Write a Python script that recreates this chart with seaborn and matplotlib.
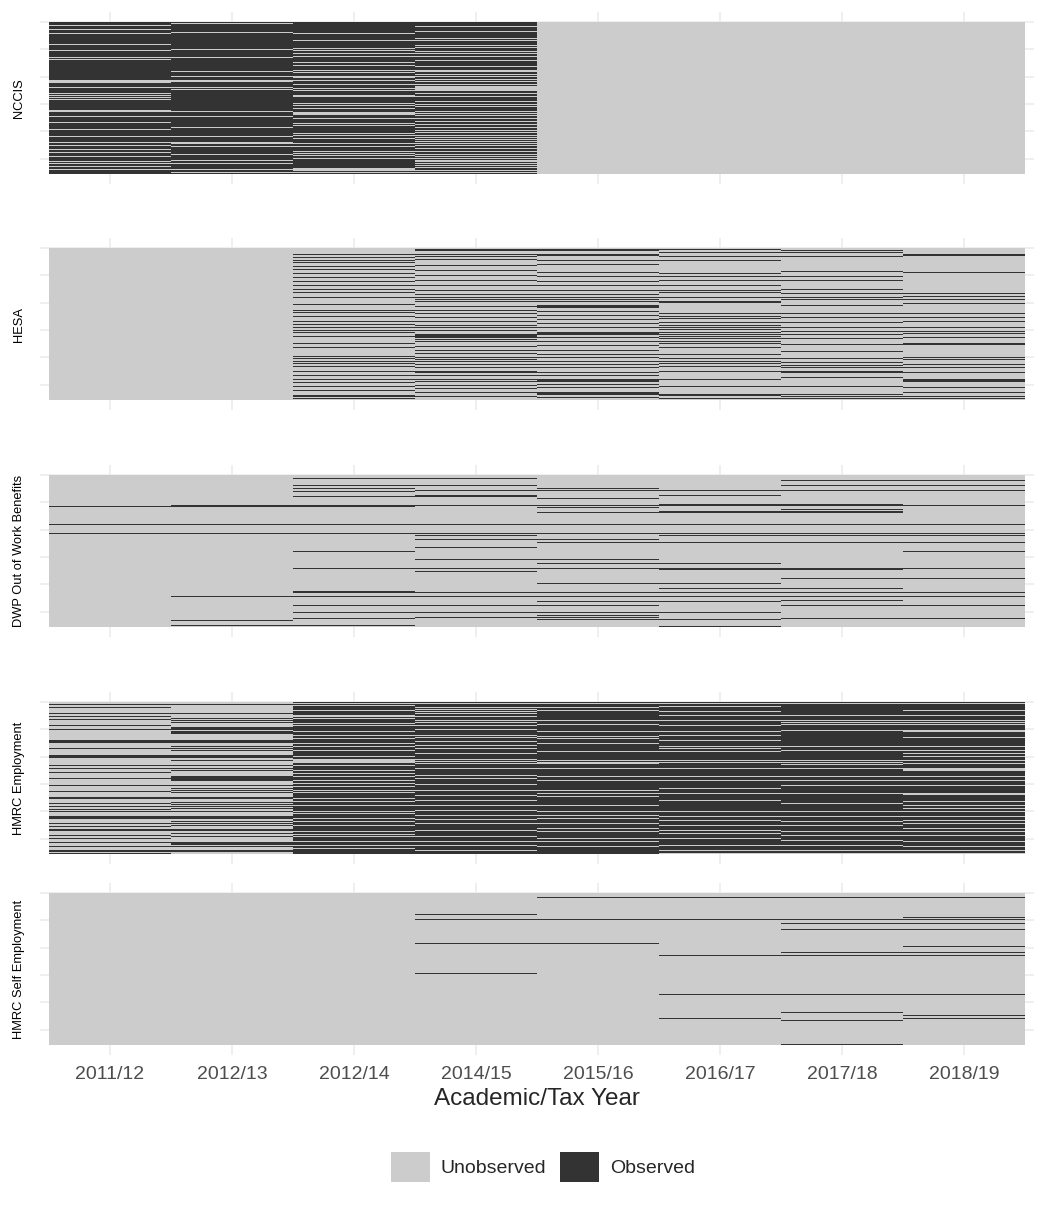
import numpy as np
import pandas as pd
import seaborn as sns
import matplotlib.pyplot as plt
from matplotlib.colors import ListedColormap
from matplotlib.patches import Patch

# rows per panel (one row ~ one pixel line of the raster)
N = 152
years = ['2011/12', '2012/13', '2012/14', '2014/15', '2015/16', '2016/17', '2017/18', '2018/19']
sources = ['NCCIS', 'HESA', 'DWP Out of Work Benefits', 'HMRC Employment', 'HMRC Self Employment']

# base state per year (1 = observed) and the rows that differ from it
nccis_base = [1, 1, 1, 1, 0, 0, 0, 0]
nccis_flip = [
    '3 7 11 22 28 35 37 58-60 65 71 73 75 77 88-89 94 100 107 114 120 123 127 130 134 139 141 144 147',
    '1 10 27 35 49 54 58-59 65 67 89 94 105 114 120-121 124 132 138 141 147 150',
    '11 18 26 28 31 34 40 43 48 50 54-55 58 62 66 68 73-74 81 83 86 90-92 96 101 103 111 113 116 121 124 '
    '129 131 133 136 146-148 150',
    '4 9 16 18 23 25 29 31 34 38 44 48-49 52 54 57 59 62 64-68 71 74 79 82 84 89 91 93 96 99 102 105 108 '
    '110 113 115 117 119 121 123 126 129 132 134 136 138 139 141 143 145 148 150',
    '', '', '', '',
]

hesa_base = [0, 0, 0, 0, 0, 0, 0, 0]
hesa_flip = [
    '', '',
    '6 9 12 14 18 21 25 29 33 37 41 44 49 56 62 64 68 73 76 79 82 84 88 95 99 108 110 113 115 118 123 127 '
    '131 134 138 142 147-148 150',
    '1-2 6 8 11 17 22 27 32 37 42 46 49 51 53 58 62 65 69 73 77 79 82 86-89 91 93 98 102 105 109 111 113 '
    '116 119 123-124 127 131 133 137 140 144 148',
    '1-2 6-7 12 16 24 28 33 37 42 46 49 51 53 57-59 63 67 71 75 79 84-86 89 93 97 102 106 109 113 116 119 '
    '124 127 131-133 136 139 144-146 149',
    '1 4 8 12 25 28 32 37 42 44 49 53-54 65 68 70 74 77 79 81 84 86 88 90 93 95 99 106 110 113 115 118 123 '
    '131 138 146-147 150',
    '2 4 8 23 28 32 41 45 49 51 57 65 69 74 79 83 86 90 96 103 110 114 117 119 123-124 129 138 146 148 150',
    '6-7 24 45 48 51 55 65 69 73 79 83 85 89 95-96 109 111 116 119 124 131-133 139 144 148 150',
]

dwp_base = [0, 0, 0, 0, 0, 0, 0, 0]
dwp_flip = [
    '31 49 58',
    '30-31 49 58 121 145 150',
    '3 10 13 16 21 30-31 49 58 76 93 116 117 121 130 137 143 150',
    '3 10 15 20-21 30 49 58 60 64 72 84 93 96 117 121 130 137 142',
    '13 15 23 30 32 37 49 58 64 67 84 88 93 108 117 121 126 130 137 140 142 144',
    '15 20 29-30 36-37 49 58 60 67 88 93-94 108 113 117 121 126 137 144 151',
    '5 10 15 29-30 34 36-37 49 58 60 67 93-94 103 113 117 121 125 130 143',
    '5 10 15 30 49 58 60 67 76 93 103 117 121 130 143',
]

emp_base = [0, 0, 1, 1, 1, 1, 1, 1]
emp_flip = [
    '2 5 11 14 17 23 27 38-40 46 53-55 63 66 70 76 83 89 95-96 101 104 107 109 114-116 121 124 127-128 '
    '133 136 140 144 148-149 151',
    '2 11 16 18 20 25-27 29-31 38-40 44 46 48 53-55 58 63 66 68 74-78 83 86 88 90 95-96 100 102 104 106 '
    '109 114-116 119 121 123 127-128 131 134 140-142 144 148-149',
    '1 3 8 13-14 16 21 23 29 33 36 41 44 48 54 57-60 63 68 71 74 78 81 84 88 90 96 99 103 109 111 116 119 '
    '123 129 132 134 139 143 146',
    '1 5 7 9 11 14 18 20 23 27 33 35 39 43 46 51 57 59 61 66 73 76 82 88 93 98 103 108 113 117 121 128 134 '
    '139 143 148',
    '1 5 8 18 22 29 34 36 41 49 58 60-61 66 74 78 88 91 94 103 109 113 116 121 126 129 136 139 144',
    '1 4 9 13 18 23 29 33 38 44 46 49 58 60 66 74 78 86 91 98 109 114 118 123 128 131 136 143 148 151',
    '1 13 18 20 22 28 44 48 58 60 62 66 74 78 83 91 101 109 114 119 123 129 133 138 143 148 151',
    '1 8 13 18 20 22 28-29 35 44 48 51 54 58 61 66-68 74 78 83 91-92 99 103 106 109 114 118 121 126 129 '
    '133 139 144 148 151',
]

self_base = [0, 0, 0, 0, 0, 0, 0, 0]
self_flip = [
    '', '', '',
    '21 26 50 80',
    '4 26 50',
    '4 26 62 101 125',
    '4 26 30 36 59 62 101 119 127 151',
    '4 24 26 30 36 53 59 62 101 122 125',
]


def parse_rows(spec):
    rows = []
    for tok in spec.split():
        if '-' in tok:
            a, b = tok.split('-')
            rows += list(range(int(a), int(b) + 1))
        else:
            rows.append(int(tok))
    return rows


def build(base, flips):
    m = np.zeros((N, len(years)))
    for j, (b, f) in enumerate(zip(base, flips)):
        m[:, j] = b
        m[parse_rows(f), j] = 1 - b
    return pd.DataFrame(m, columns=years)


panels = [build(nccis_base, nccis_flip), build(hesa_base, hesa_flip), build(dwp_base, dwp_flip),
          build(emp_base, emp_flip), build(self_base, self_flip)]

sns.set_style('white')
plt.rcParams['font.family'] = ['Liberation Sans', 'DejaVu Sans']

light, dark = '#cccccc', '#333333'
cmap = ListedColormap([light, dark])

W, H = 1050, 1210
fig = plt.figure(figsize=(W / 100, H / 100), dpi=100)

# raster tops in pixels, raster spans x 49..1025 and 152 px high
tops = [22, 248, 475, 702, 893]
pad_x, pad_y = 9, 10
for i, (df, name, top) in enumerate(zip(panels, sources, tops)):
    left = 49 - pad_x
    width = 976 + 2 * pad_x
    height = 152 + 2 * pad_y
    ax = fig.add_axes([left / W, 1 - (top - pad_y + height) / H, width / W, height / H])
    sns.heatmap(df, ax=ax, cmap=cmap, vmin=0, vmax=1, cbar=False,
                xticklabels=years, yticklabels=False)
    ax.set_xlim(-pad_x / 122, 8 + pad_x / 122)
    ax.set_ylim(N + pad_y, -pad_y)
    ax.set_xticks(np.arange(8) + 0.5)
    ax.set_yticks([0, 27, 55, 82, 109, 137])
    ax.set_axisbelow(True)
    ax.grid(True, color='#ebebeb', linewidth=1.1)
    for s in ax.spines.values():
        s.set_visible(False)
    ax.tick_params(length=0, labelleft=False)
    if i < 4:
        ax.tick_params(labelbottom=False)
    else:
        ax.set_xticklabels(years, rotation=0, fontsize=14, color='#4d4d4d')
        ax.tick_params(axis='x', pad=8)
    ax.set_xlabel('')
    ax.set_ylabel(name, fontsize=9.3, color='black')
    ax.yaxis.set_label_coords(-0.015, 0.5)

fig.text(537 / W, 1 - 1099 / H, 'Academic/Tax Year', ha='center', va='center', fontsize=17.5)

handles = [Patch(facecolor=light, edgecolor='none', label='Unobserved'),
           Patch(facecolor=dark, edgecolor='none', label='Observed')]
fig.legend(handles=handles, loc='center', bbox_to_anchor=(543 / W, 1 - 1167 / H), ncol=2,
           frameon=False, fontsize=14, handlelength=2.0, handleheight=2.0,
           handletextpad=0.55, columnspacing=0.7)

fig.savefig('out.png', dpi=100, facecolor='white')
